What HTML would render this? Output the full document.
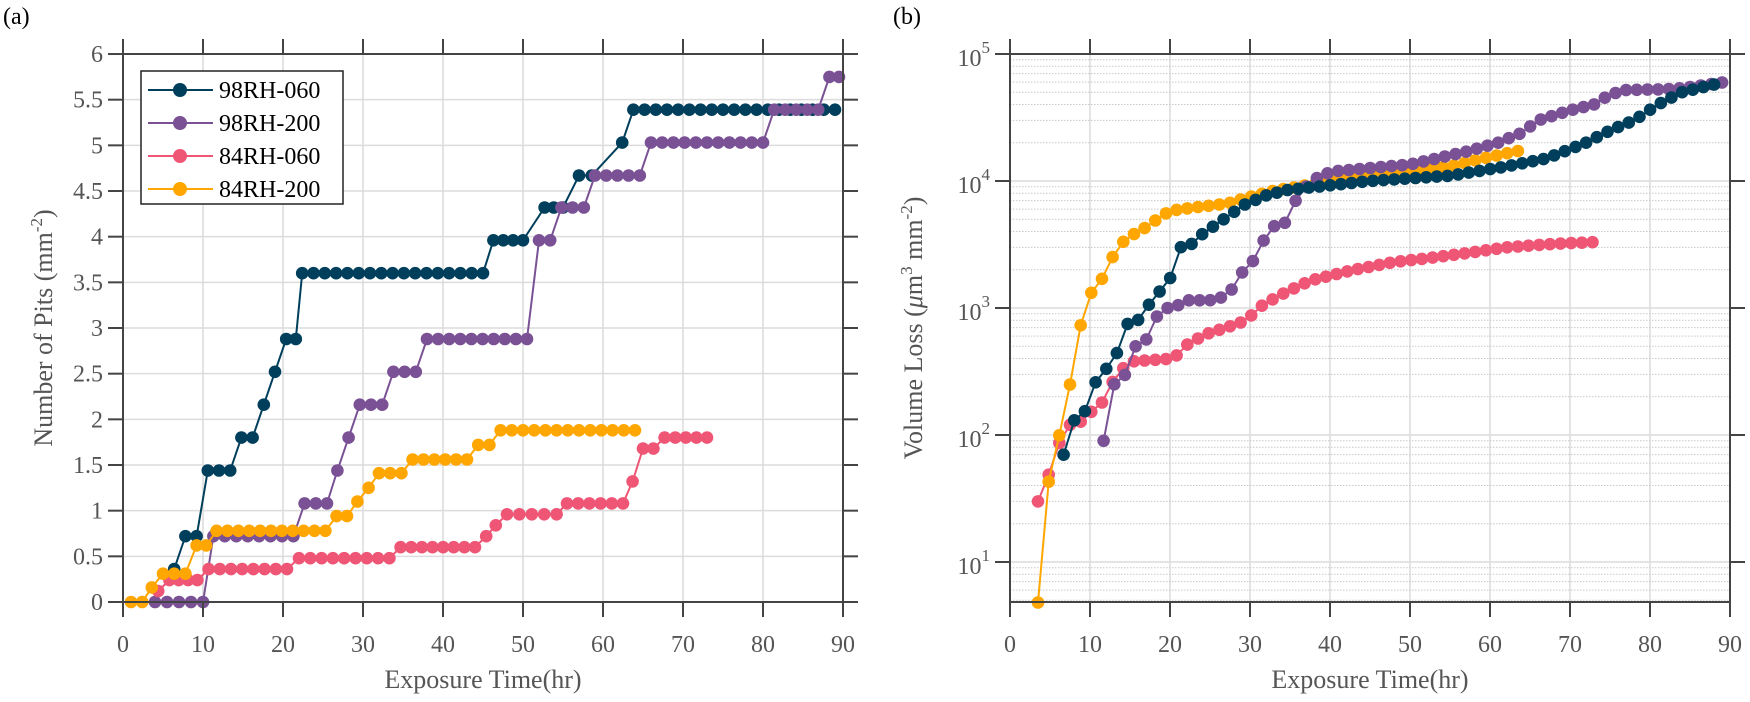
<!DOCTYPE html>
<html><head><meta charset="utf-8">
<style>
html,body{margin:0;padding:0;background:#fff;}
svg{display:block;font-family:"Liberation Serif",serif;}
</style></head>
<body>
<svg id="s" width="1750" height="702" viewBox="0 0 1750 702" xmlns="http://www.w3.org/2000/svg"></svg>
<script>
const S=document.getElementById('s');let h='';
const C={n:'#003f5c',p:'#7a5195',k:'#ef5675',o:'#ffa600'};
const ax={l:123,r:843,t:54,b:602};
const xa=t=>ax.l+t*8, ya=v=>ax.b-v*91.33;
const bx={l:1010,r:1730,t:54,b:602};
const xb=t=>bx.l+t*8, yb=v=>181-(Math.log10(v)-4)*127;
h+=`<g stroke="#dcdcdc" stroke-width="1.5">`;
for(let i=1;i<9;i++)h+=`<line x1="${xa(i*10)}" y1="${ax.t}" x2="${xa(i*10)}" y2="${ax.b}"/>`;
for(let i=1;i<12;i++)h+=`<line x1="${ax.l}" y1="${ya(i*.5)}" x2="${ax.r}" y2="${ya(i*.5)}"/>`;
h+=`</g>`;
h+=`<g stroke="#dcdcdc" stroke-width="1.5">`;
for(let i=1;i<9;i++)h+=`<line x1="${xb(i*10)}" y1="${bx.t}" x2="${xb(i*10)}" y2="${bx.b}"/>`;
for(let e=1;e<=4;e++)h+=`<line x1="${bx.l}" y1="${yb(10**e)}" x2="${bx.r}" y2="${yb(10**e)}"/>`;
h+=`</g><g stroke="#c8c8c8" stroke-width="1" stroke-dasharray="1.5,1.5">`;
for(let e=0;e<=4;e++)for(let m=2;m<10;m++){const y=yb(m*10**e);if(y>bx.b-1||y<bx.t+1)continue;h+=`<line x1="${bx.l}" y1="${y}" x2="${bx.r}" y2="${y}"/>`;}
h+=`</g>`;
const d=1.333;
function segs(list){const r=[];list.forEach(s=>{const v=s[0],a=s[1],b=s.length>2?s[2]:s[1];const n=Math.max(0,Math.round((b-a)/1.4));for(let i=0;i<=n;i++)r.push([n?a+(b-a)*i/n:a,v]);});return r;}
const A={
n:segs([[0.36,6.4],[0.72,7.8,9.2],[1.44,10.6,13.4],[1.8,14.8,16.2],[2.16,17.6],[2.52,19],[2.88,20.4,21.6],[3.6,22.4,45],[3.96,46.3,50],[4.32,52.7,55],[4.67,57,58.6],[5.03,62.4],[5.39,63.8,89]]),
p:segs([[0,4,10],[0.72,11.3,21.3],[1.08,22.7,25.5],[1.44,26.8],[1.8,28.2],[2.16,29.6,32.4],[2.52,33.8,36.6],[2.88,38,50.5],[3.96,52,53.4],[4.32,54.8,57.6],[4.67,59,64.6],[5.03,66,80],[5.39,81.4,86.9],[5.75,88.3,89.5]]),
k:segs([[0.12,4.4],[0.24,5.8,9.3],[0.36,10.7,20.5],[0.48,22,33.3],[0.6,34.7,44],[0.72,45.4],[0.84,46.6],[0.96,48,54.2],[1.08,55.5,62.5],[1.32,63.7],[1.68,65,66.3],[1.8,67.7,73]]),
o:segs([[0,1,2.4],[0.16,3.6],[0.31,5,7.8],[0.62,9.2,10.4],[0.78,11.7,25.3],[0.94,26.7,28],[1.1,29.3],[1.25,30.7],[1.41,32,34.8],[1.56,36.2,43],[1.72,44.4,45.8],[1.88,47.2,64]])
};
function interp(an,t){for(let i=0;i<an.length-1;i++){if(t>=an[i][0]&&t<=an[i+1][0]){const f=(t-an[i][0])/(an[i+1][0]-an[i][0]);return 10**(Math.log10(an[i][1])*(1-f)+Math.log10(an[i+1][1])*f);}}return an[an.length-1][1];}
function gen(t0,t1,an){const r=[];for(let t=t0;t<=t1+0.01;t+=d)r.push([t,interp(an,t)]);return r;}
const B={
n:gen(6.7,89.3,[[6.7,70],[8,130],[9.3,150],[10.7,260],[12,330],[13.3,430],[14.7,750],[16,800],[17.3,1050],[18.7,1350],[20,1700],[21.3,3000],[22.7,3200],[24,3800],[26.7,5000],[29.3,6500],[32,7700],[34.7,8500],[45,10000],[55,11000],[62,13000],[67,15000],[72,20000],[75,25000],[78,30000],[81,40000],[84,50000],[89.3,60000]]),
p:gen(11.7,89.3,[[11.7,90],[13,250],[14.3,290],[15.7,500],[17,560],[18.3,850],[19.7,1000],[21,1050],[22.3,1150],[25,1150],[26.3,1200],[27.7,1400],[29,1900],[30.3,2300],[31.7,3400],[33,4400],[34.3,4600],[35.7,7000],[37,9000],[38.3,10500],[39.7,11500],[41,12000],[50,13500],[57,17000],[61,20000],[64,24000],[66,30000],[70,36000],[73,40000],[75,48000],[77,52000],[83,53000],[85,55000],[89.3,60000]]),
k:gen(3.5,73,[[3.5,30],[4.8,48],[6.1,85],[7.4,120],[8.7,125],[10,150],[11.3,170],[12.6,250],[14,330],[15.3,380],[20.5,400],[21.8,500],[24.4,620],[27,700],[29.6,800],[31,1000],[33.6,1250],[37.6,1650],[43,2000],[48,2300],[53,2500],[57,2700],[62,3000],[68,3200],[73,3300]]),
o:gen(3.5,64,[[3.5,4.8],[4.8,42],[6.1,95],[7.5,250],[8.8,720],[10.1,1300],[11.5,1700],[12.8,2500],[14.1,3300],[15.4,3800],[16.7,4200],[18,4800],[19.3,5500],[20.6,5900],[24,6300],[27,6600],[30,7500],[33,8400],[36,9000],[40,10000],[45,11000],[50,12000],[55,13000],[60,15500],[64,17500]])
};
function series(pts,fx,fy,c){let p=pts.map(q=>fx(q[0]).toFixed(1)+','+fy(q[1]).toFixed(1)).join(' ');let s=`<polyline points="${p}" fill="none" stroke="${c}" stroke-width="2"/>`;pts.forEach(q=>s+=`<circle cx="${fx(q[0]).toFixed(1)}" cy="${fy(q[1]).toFixed(1)}" r="6.3" fill="${c}"/>`);return s;}
for(const k of ['n','p','k','o'])h+=series(A[k],xa,ya,C[k]);
h+=`<clipPath id="cb"><rect x="${bx.l}" y="${bx.t-8}" width="730" height="${bx.b-bx.t+16}"/></clipPath><g clip-path="url(#cb)">`;
for(const k of ['k','o','p','n'])h+=series(B[k],xb,yb,C[k]);
h+=`</g>`;
function axes(a){let s=`<rect x="${a.l}" y="${a.t}" width="${a.r-a.l}" height="${a.b-a.t}" fill="none" stroke="#444" stroke-width="2"/>`;
for(let i=0;i<=9;i++){const x=a.l+i*80;s+=`<line x1="${x}" y1="${a.b}" x2="${x}" y2="${a.b+15}" stroke="#444" stroke-width="2"/><line x1="${x}" y1="${a.t}" x2="${x}" y2="${a.t-15}" stroke="#444" stroke-width="2"/>`;
s+=`<text x="${x}" y="${a.b+50}" font-size="24" fill="#555" text-anchor="middle">${i*10}</text>`;}
return s;}
h+=axes(ax);h+=axes(bx);
for(let i=0;i<=12;i++){const y=ya(i*.5);h+=`<line x1="${ax.l}" y1="${y}" x2="${ax.l-15}" y2="${y}" stroke="#444" stroke-width="2"/><line x1="${ax.r}" y1="${y}" x2="${ax.r+15}" y2="${y}" stroke="#444" stroke-width="2"/>`;
h+=`<text x="${ax.l-20}" y="${y+8}" font-size="24" fill="#555" text-anchor="end">${i*.5}</text>`;}
for(let e=1;e<=5;e++){const y=yb(10**e);h+=`<line x1="${bx.l}" y1="${y}" x2="${bx.l-15}" y2="${y}" stroke="#444" stroke-width="2"/><line x1="${bx.r}" y1="${y}" x2="${bx.r+15}" y2="${y}" stroke="#444" stroke-width="2"/>`;
h+=`<text x="${bx.l-20}" y="${y+12}" font-size="24" fill="#555" text-anchor="end">10<tspan dy="-13" font-size="17">${e}</tspan></text>`;}
h+=`<text x="483" y="688" font-size="26" fill="#555" text-anchor="middle">Exposure Time(hr)</text>`;
h+=`<text x="1370" y="688" font-size="26" fill="#555" text-anchor="middle">Exposure Time(hr)</text>`;
h+=`<text transform="translate(52,328) rotate(-90)" font-size="26" fill="#555" text-anchor="middle">Number of Pits (mm<tspan dy="-10" font-size="17">-2</tspan><tspan dy="10">)</tspan></text>`;
h+=`<text transform="translate(922,328) rotate(-90)" font-size="26" fill="#555" text-anchor="middle">Volume Loss (<tspan font-style="italic">μ</tspan>m<tspan dy="-10" font-size="17">3</tspan><tspan dy="10"> mm</tspan><tspan dy="-10" font-size="17">-2</tspan><tspan dy="10">)</tspan></text>`;
h+=`<text x="3" y="24" font-size="24" fill="#000">(a)</text><text x="893" y="24" font-size="24" fill="#000">(b)</text>`;
h+=`<rect x="141" y="71" width="202" height="133" fill="#fff" stroke="#222" stroke-width="1.5"/>`;
const L=[['n','98RH-060'],['p','98RH-200'],['k','84RH-060'],['o','84RH-200']];
L.forEach((e,i)=>{const y=90+i*33;h+=`<line x1="148" y1="${y}" x2="213" y2="${y}" stroke="${C[e[0]]}" stroke-width="2"/><circle cx="180" cy="${y}" r="7" fill="${C[e[0]]}"/><text x="219" y="${y+8}" font-size="24" fill="#000">${e[1]}</text>`;});
S.innerHTML=h;
</script>
</body></html>
